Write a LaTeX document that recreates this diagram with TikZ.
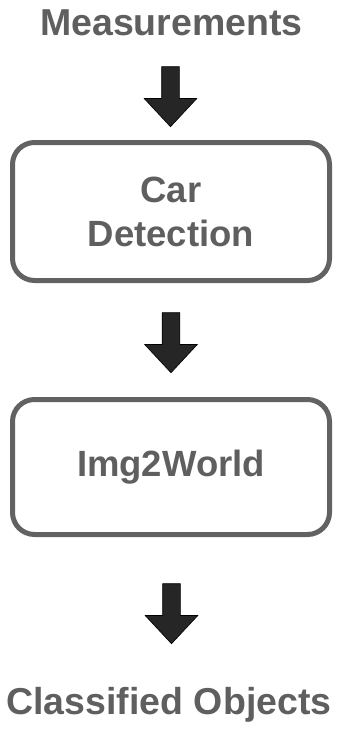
\documentclass[tikz,border=0pt]{standalone}
\usepackage{fontspec}
\setmainfont{Liberation Sans}
\usetikzlibrary{shapes.arrows}
\definecolor{labelgray}{HTML}{5F5F5F}
\definecolor{framegray}{HTML}{626262}
\definecolor{arrowfill}{HTML}{262626}
\tikzset{
  label text/.style={font=\bfseries\fontsize{37.5}{44}\selectfont, text=labelgray, inner sep=0pt},
  stagebox/.style={draw=framegray, line width=5pt, rounded corners=22pt, fill=white,
    minimum width=317pt, align=center, inner sep=0pt,
    font=\bfseries\fontsize{36.5}{44}\selectfont, text=labelgray},
  flowarrow/.style={single arrow, draw=black, line width=0.6pt, fill=arrowfill,
    rotate=-90, minimum height=60pt, inner xsep=0pt, inner ysep=8.5pt,
    single arrow head extend=17.5pt, single arrow tip angle=86}
}
\begin{document}
\begin{tikzpicture}[x=1pt,y=-1pt]
  \useasboundingbox (0,0) rectangle (342,729);
  \node[label text, anchor=base] (meas) at (171.5,35) {Measurements};
  \node[flowarrow] (a1) at (170.5,92) {};
  \node[stagebox, minimum height=138pt] (det) at (171,211.5) {Car\\Detection};
  \node[flowarrow] (a2) at (171,338) {};
  \node[stagebox, minimum height=135pt] (i2w) at (171,467) {Img2World};
  \node[flowarrow] (a3) at (171.5,609) {};
  \node[label text, anchor=base] (out) at (169,714) {Classified Objects};
\end{tikzpicture}
\end{document}
